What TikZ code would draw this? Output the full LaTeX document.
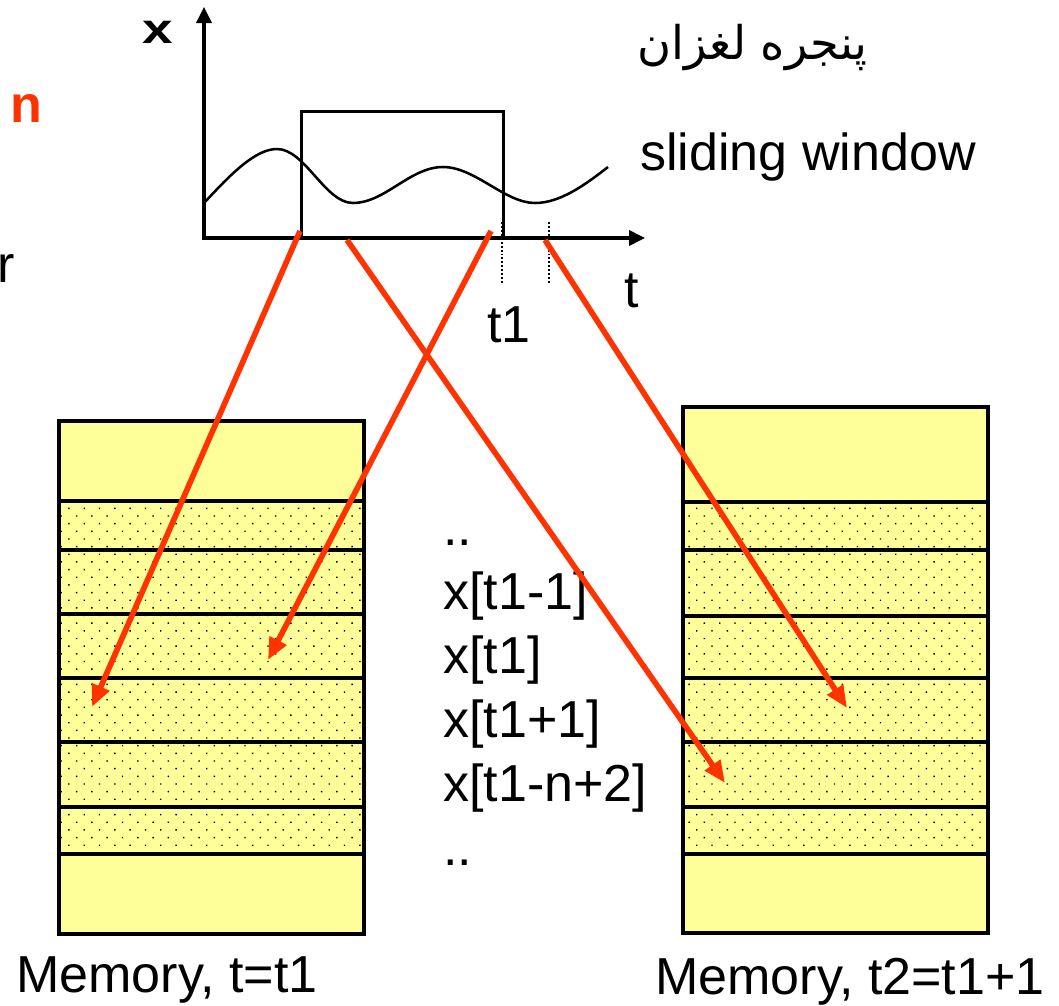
\documentclass[tikz,border=0pt]{standalone}
\usepackage{fontspec}
\setmainfont{Liberation Sans}
\newfontfamily\farsifont[Script=Arabic]{DejaVu Sans}
\TeXXeTstate=1
\usetikzlibrary{arrows.meta,positioning,patterns.meta}
\definecolor{memyellow}{RGB}{255,255,153}
\definecolor{redorange}{RGB}{255,51,0}

\begin{document}
\begin{tikzpicture}[
  x=0.025cm, y=-0.025cm,
  txt/.style={font=\fontsize{37pt}{44pt}\selectfont, inner sep=0pt},
  cell/.style={
    draw,
    line width=2.4pt,
    fill=memyellow,
    minimum width=7.625cm,
    inner sep=0pt,
    outer sep=0pt
  },
  dotcell/.style={
    cell,
    postaction={pattern={Dots[radius=0.7pt,distance=7.7pt,angle=45]},
                pattern color=black}
  },
  axis/.style={line width=2.2pt, line join=miter,
    {Triangle[length=0.4cm,width=0.38cm]}-{Triangle[length=0.4cm,width=0.38cm]}},
  tick/.style={line width=1.4pt, dash pattern=on 1.4pt off 1.4pt},
  feed/.style={draw=redorange, line width=4pt,
    -{Triangle[length=0.55cm,width=0.45cm]}}
]
\useasboundingbox (0,0) rectangle (1059,1006);

% signal plot
\coordinate (o) at (204,238);
\coordinate (ytip) at (204,7);
\coordinate (xtip) at (645,238);
\draw[axis] (ytip) -- (o) -- (xtip);
\draw[line width=1.8pt] (204,203)
  .. controls (230,175) and (255,149) .. (277,149)
  .. controls (305,149) and (325,203) .. (353,203)
  .. controls (385,203) and (410,167) .. (443,167)
  .. controls (475,167) and (505,203) .. (535,203)
  .. controls (560,203) and (585,185) .. (608,167);
\node[draw, line width=1.8pt, minimum width=5.05cm, minimum height=3.15cm,
  inner sep=0pt, anchor=north west] (win) at (300,110) {};
\draw[tick] (502,222) -- (502,284);
\draw[tick] (549,222) -- (549,284);

\node[font=\bfseries\fontsize{30pt}{30pt}\selectfont, inner sep=0pt] (xlab) at (158,32)
  {\scalebox{1.3}[1]{x}};
\node[txt, anchor=base west] (tlab) at (624,307) {t};
\node[txt, anchor=base west] (t1lab) at (487,342) {t1};
\node[txt, anchor=base west] (slide) at (640,170) {sliding window};
\node[font=\farsifont\fontsize{33pt}{36pt}\selectfont, inner sep=0pt,
  anchor=base east] (slidefa) at (868,59) {\beginR پنجره لغزان\endR};

% text cut at the left edge
\node[font=\bfseries\fontsize{37pt}{40pt}\selectfont, text=redorange,
  inner sep=0pt, anchor=base east] (nfrag) at (43,122) {n};
\node[txt, anchor=base west] (rfrag) at (-3,282) {r};

% memory at t1
\node[cell, minimum height=2cm, anchor=north west] (l0) at (59,421) {};
\node[dotcell, minimum height=1.225cm, below=0pt of l0] (l1) {};
\node[dotcell, minimum height=1.6cm, below=0pt of l1] (l2) {};
\node[dotcell, minimum height=1.6cm, below=0pt of l2] (l3) {};
\node[dotcell, minimum height=1.6cm, below=0pt of l3] (l4) {};
\node[dotcell, minimum height=1.625cm, below=0pt of l4] (l5) {};
\node[dotcell, minimum height=1.175cm, below=0pt of l5] (l6) {};
\node[cell, minimum height=2cm, below=0pt of l6] (l7) {};
\node[txt, anchor=base west] (capl) at (16,992) {Memory, t=t1};

% memory at t2
\node[cell, minimum height=2.375cm, anchor=north west] (r0) at (683,407) {};
\node[dotcell, minimum height=1.2cm, below=0pt of r0] (r1) {};
\node[dotcell, minimum height=1.65cm, below=0pt of r1] (r2) {};
\node[dotcell, minimum height=1.55cm, below=0pt of r2] (r3) {};
\node[dotcell, minimum height=1.6cm, below=0pt of r3] (r4) {};
\node[dotcell, minimum height=1.625cm, below=0pt of r4] (r5) {};
\node[dotcell, minimum height=1.175cm, below=0pt of r5] (r6) {};
\node[cell, minimum height=1.975cm, below=0pt of r6] (r7) {};
\node[txt, anchor=base west] (capr) at (655,994) {Memory, t2=t1+1};

% samples
\foreach \s [count=\i from 0] in {{..},{x[t1-1]},{x[t1]},{x[t1+1]},{x[t1-n+2]},{..}}
  \node[txt, anchor=base west] (v\i) at (443,545+64*\i) {\s};

% where the samples go
\coordinate (s1) at (300,231);
\coordinate (s2) at (347,240);
\coordinate (s3) at (491,231);
\coordinate (s4) at (545,240);
\coordinate (e1) at (92,707);
\coordinate (e2) at (725,783);
\coordinate (e3) at (268,660);
\coordinate (e4) at (847,708);
\draw[feed] (s1) -- (e1);
\draw[feed] (s2) -- (e2);
\draw[feed] (s3) -- (e3);
\draw[feed] (s4) -- (e4);
\end{tikzpicture}
\end{document}
